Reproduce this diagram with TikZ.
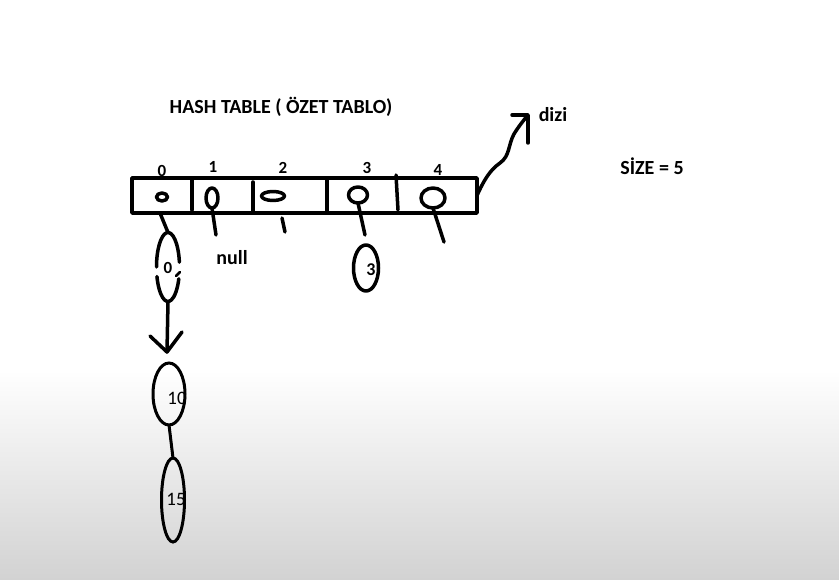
\documentclass[tikz,border=0pt]{standalone}
\usepackage{fontspec}
\setmainfont{Carlito}
\usetikzlibrary{shapes.geometric}
\definecolor{bggrey}{RGB}{210,210,210}
\begin{document}
\begin{tikzpicture}[x=1pt,y=-1pt,
  pen/.style={line width=3.5pt, line cap=round, line join=round},
  thinpen/.style={line width=3pt, line cap=round},
  oval/.style={ellipse, draw, pen, inner sep=0pt, outer sep=0pt},
  bigoval/.style={ellipse, draw, thinpen, inner sep=0pt, outer sep=0pt},
  lbl/.style={font=\fontsize{20}{22}\selectfont\bfseries, inner sep=0pt},
  idx/.style={font=\fontsize{17}{19}\selectfont\bfseries, inner sep=0pt},
  val/.style={font=\fontsize{19}{22}\selectfont, inner sep=0pt},
]
\useasboundingbox (0,0) rectangle (839,580);
\fill[white] (0,0) rectangle (839,580);
\shade[top color=white, bottom color=bggrey] (0,370) rectangle (839,580);

% title and labels
\node[lbl] (title) at (281,107) {HASH TABLE ( ÖZET TABLO)};
\node[lbl] (dizi) at (553,115) {dizi};
\node[lbl] (size) at (652,166) {SİZE = 5};
\node[lbl] (null) at (232,258) {null};

% array
\node[draw, pen, minimum width=345pt, minimum height=35pt, inner sep=0pt, outer sep=0pt] (arr) at (304.5,195.5) {};
\draw[pen] (192,178) -- (192,210);
\draw[pen] (253,182) -- (253,213);
\draw[pen] (327,178) -- (327,213);
\draw[pen] (396,175) -- (398,210);

% indices
\node[idx] (i0) at (162,171) {0};
\node[idx] (i1) at (213,167) {1};
\node[idx] (i2) at (283,168) {2};
\node[idx] (i3) at (367,168) {3};
\node[idx] (i4) at (438,170) {4};

% cell pointers
\node[oval, minimum width=11pt, minimum height=8pt] (c0) at (162,197) {};
\node[oval, minimum width=12pt, minimum height=20pt] (c1) at (212,198) {};
\node[oval, minimum width=23pt, minimum height=9pt] (c2) at (273,196) {};
\node[oval, minimum width=19pt, minimum height=16pt] (c3) at (358,195) {};
\node[oval, minimum width=24pt, minimum height=20pt] (c4) at (433,198) {};

\coordinate (t0) at (160,213);
\coordinate (t1) at (216,235);
\coordinate (t2a) at (282,218);
\coordinate (t2) at (285,232);
\coordinate (t3) at (365,235);
\coordinate (t4) at (444,242);
\draw[pen] (c1.south) -- (t1);
\draw[pen] (t2a) -- (t2);
\draw[pen] (c3.south) -- (t3);
\draw[pen] (c4.south) -- (t4);

% list at index 0
\node[ellipse, inner sep=0pt, outer sep=0pt, minimum width=23pt, minimum height=69pt] (e0) at (168,267) {};
\node[idx] (v0) at (168,268) {0};
\draw[pen] ([shift={(8:11.5pt and 34.5pt)}]e0.center) arc[start angle=8, end angle=180, x radius=11.5pt, y radius=34.5pt];
\draw[pen] ([shift={(196:11.5pt and 34.5pt)}]e0.center) arc[start angle=196, end angle=340, x radius=11.5pt, y radius=34.5pt];
\draw[line width=2.5pt, line cap=round] (176,276) -- (180,272);
\draw[pen] (t0) -- (e0.north);

\coordinate (tip) at (167,352);
\draw[pen] (e0.south) -- (tip);
\draw[pen] (150,336) -- (tip) -- (182,332);

\node[val] (v10) at (177,398) {10};
\node[bigoval, minimum width=32pt, minimum height=62pt] (e10) at (169,394) {};
\node[val] (v15) at (176,499) {15};
\node[bigoval, minimum width=23pt, minimum height=84pt] (e15) at (173,500) {};
\draw[thinpen] (e10.south) -- (e15.north);

% list at index 3
\node[oval, minimum width=25pt, minimum height=46pt] (e3) at (366,268) {};
\node[font=\fontsize{18}{20}\selectfont\bfseries, inner sep=0pt] (v3) at (371,270) {3};

% wavy arrow to "dizi"
\coordinate (dtip) at (528,115);
\draw[pen] (arr.east) .. controls (484,180) and (490,170) .. (500,163)
  .. controls (510,156) and (508,145) .. (514,134)
  .. controls (519,126) and (523,121) .. (dtip);
\draw[pen] (512,115) -- (dtip) -- (528,143);
\end{tikzpicture}
\end{document}
